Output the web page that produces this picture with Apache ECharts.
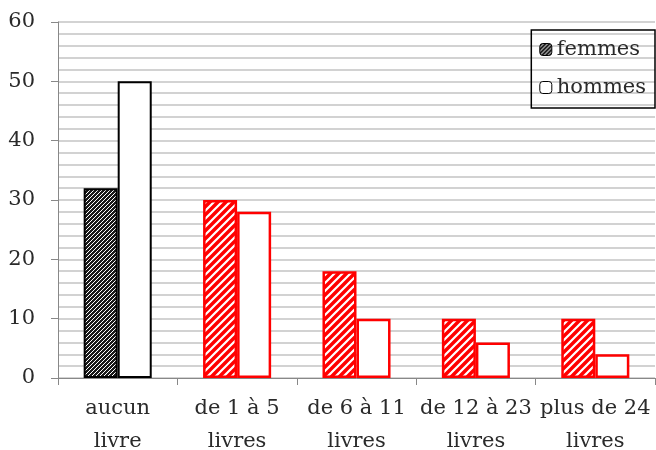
<!DOCTYPE html>
<html>
<head>
<meta charset="utf-8">
<script src="https://cdn.jsdelivr.net/npm/echarts@6/dist/echarts.min.js"></script>
<style>
    html, body { margin: 0; padding: 0; background: #fff; }
    #chart { width: 656px; height: 450px; }
</style>
</head>
<body>
<div id="chart"></div>
<script>
const categories = ["aucun\nlivre", "de 1 à 5\nlivres", "de 6 à 11\nlivres", "de 12 à 23\nlivres", "plus de 24\nlivres"]
const femmes = [32, 30, 18, 10, 10]
const hommes = [50, 28, 10, 6, 4]
const yTicks = [0, 10, 20, 30, 40, 50, 60]

const FONT = "DejaVu Serif"

// motif hachuré (lignes diagonales /)
function hatch(bg, fg, size, lw) {
    let c = document.createElement("canvas")
    c.width = size
    c.height = size
    let ctx = c.getContext("2d")
    ctx.fillStyle = bg
    ctx.fillRect(0, 0, size, size)
    ctx.strokeStyle = fg
    ctx.lineWidth = lw
    ctx.beginPath()
    ctx.moveTo(-1, size + 1)
    ctx.lineTo(size + 1, -1)
    ctx.moveTo(-1, 1)
    ctx.lineTo(1, -1)
    ctx.moveTo(size - 1, size + 1)
    ctx.lineTo(size + 1, size - 1)
    ctx.stroke()
    return { image: c, repeat: "repeat" }
}

const blackHatch = hatch("#1a1a1a", "#ffffff", 4, 1)
const redHatch = hatch("#ff0000", "#ffffff", 8, 2.2)

let chart = echarts.init(document.getElementById("chart"))

let option = {
    animation: false,
    textStyle: { fontFamily: FONT },
    grid: {
        left: 58,
        right: 1,
        top: 22,
        bottom: 72,
        outerBoundsMode: "none",
    },
    legend: {
        right: 1,
        top: 30,
        orient: "vertical",
        itemWidth: 12,
        itemHeight: 12,
        itemGap: 17,
        padding: [9, 9, 10, 8],
        borderColor: "#000",
        borderWidth: 1.5,
        textStyle: { fontFamily: FONT, fontSize: 21, color: "#2a2a2a", padding: [0, 0, 0, 0] },
        data: [
            { name: "femmes", itemStyle: { color: blackHatch, borderColor: "#000", borderWidth: 1 } },
            { name: "hommes", itemStyle: { color: "#fff", borderColor: "#000", borderWidth: 1 } },
        ],
    },
    xAxis: {
        type: "category",
        data: categories,
        axisLine: { lineStyle: { color: "#888", width: 1 } },
        axisTick: { show: true, length: 7, lineStyle: { color: "#888" } },
        axisLabel: {
            fontFamily: FONT,
            fontSize: 21,
            color: "#2a2a2a",
            lineHeight: 33,
            margin: 14,
            interval: 0,
        },
    },
    yAxis: {
        type: "value",
        min: 0,
        max: 60,
        interval: 10,
        axisLine: { show: true, lineStyle: { color: "#888", width: 1 } },
        axisTick: { show: true, length: 7, lineStyle: { color: "#888" } },
        axisLabel: {
            fontFamily: FONT,
            fontSize: 21,
            color: "#2a2a2a",
            margin: 23,
            formatter: (v) => (yTicks.includes(v) ? String(v) : ""),
        },
        splitLine: { show: true, lineStyle: { color: "#c4c4c4", width: 1.5 } },
        minorTick: { show: false, splitNumber: 5 },
        minorSplitLine: { show: true, lineStyle: { color: "#c4c4c4", width: 1.5 } },
    },
    series: [
        {
            name: "femmes",
            type: "bar",
            barGap: "0%",
            barCategoryGap: "43%",
            itemStyle: { color: blackHatch, borderColor: "#000", borderWidth: 2 },
            data: femmes.map((v, i) =>
                i === 0 ? v : { value: v, itemStyle: { color: redHatch, borderColor: "#ff0000", borderWidth: 2.5 } }
            ),
        },
        {
            name: "hommes",
            type: "bar",
            itemStyle: { color: "#fff", borderColor: "#000", borderWidth: 2 },
            data: hommes.map((v, i) =>
                i === 0 ? v : { value: v, itemStyle: { color: "#fff", borderColor: "#ff0000", borderWidth: 2.5 } }
            ),
        },
    ],
}

option && chart.setOption(option)
</script>
</body>
</html>
